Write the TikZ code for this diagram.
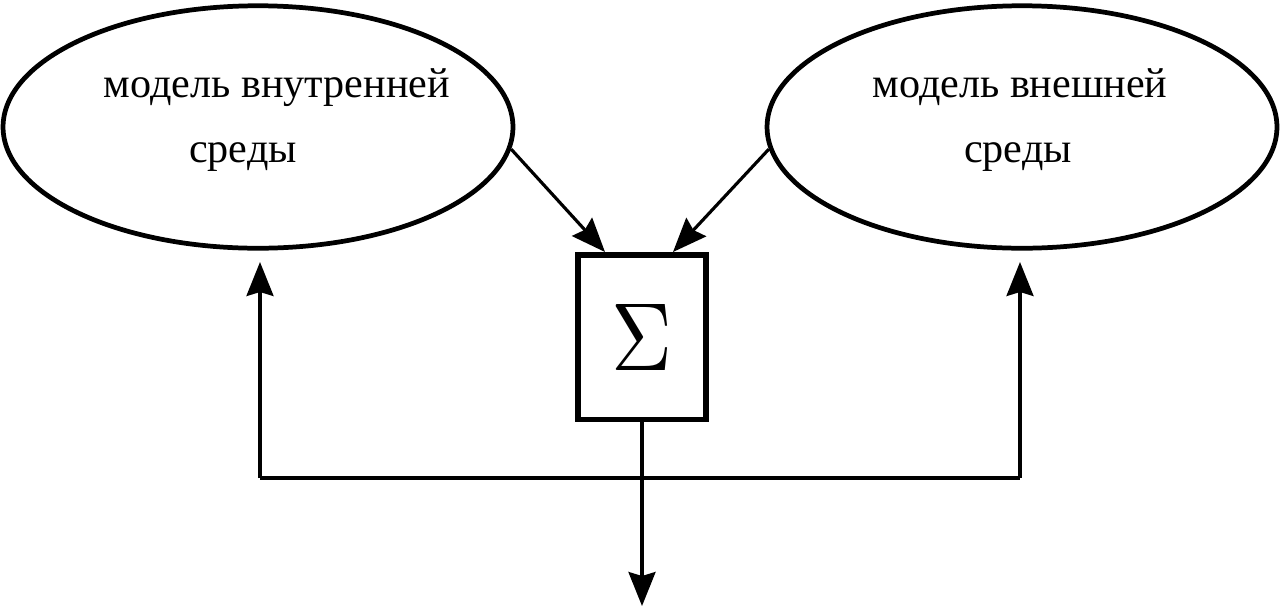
\documentclass[tikz,border=0pt]{standalone}
\usepackage{fontspec}
\usepackage{graphicx}
\setmainfont{Liberation Serif}
\usetikzlibrary{shapes.geometric,arrows.meta}

\begin{document}
\begin{tikzpicture}[x=0.02cm,y=-0.02cm]
\tikzset{model/.style = {shape=ellipse,draw,line width=2.7pt,minimum width=10.2cm,minimum height=4.85cm}}
\tikzset{sumbox/.style = {shape=rectangle,draw,line width=3.4pt,minimum width=2.56cm,minimum height=3.3cm,inner sep=0pt}}
\tikzset{label/.style = {anchor=base,font=\fontsize{24}{24}\selectfont,inner sep=0pt}}
\tikzset{edge/.style = {line width=1.8pt,-{Stealth[length=0.68cm,width=0.54cm,inset=0.08cm]}}}
\useasboundingbox (0,0) rectangle (1280,609);
%\draw (0,0) rectangle (1280,609);
\node[model] (inner) at (258,127) {};
\node[model] (outer) at (1022,127) {};
\node[label] (t1) at (277,97) {модель внутренней};
\node[label] (t2) at (243,162) {среды};
\node[label] (t3) at (1020,97) {модель внешней};
\node[label] (t4) at (1018,162) {среды};
\node[sumbox] (sum) at (642,337) {\raisebox{-3pt}{\scalebox{4.8}[5.5]{$\Sigma$}}};
\coordinate (inA) at (605,252);
\coordinate (inB) at (673,252);
\coordinate (fl) at (260,478);
\coordinate (fr) at (1020,478);
\coordinate (tipL) at (260,262);
\coordinate (tipR) at (1020,262);
\coordinate (out) at (642,606);
\draw[edge] (inner.-5) to (inA);
\draw[edge] (outer.185) to (inB);
\draw[edge] (sum.south) to (out);
\draw[line width=1.8pt] (fl) -- (fr);
\draw[edge] (fl) to (tipL);
\draw[edge] (fr) to (tipR);
\end{tikzpicture}
\end{document}
